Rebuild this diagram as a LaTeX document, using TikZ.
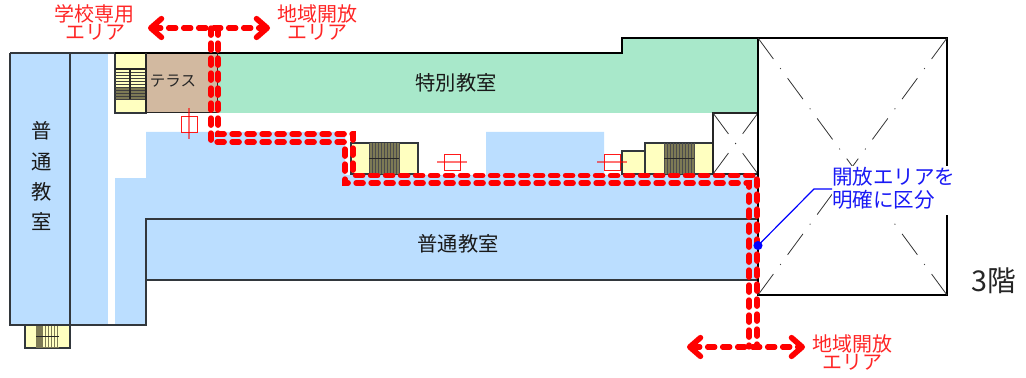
\documentclass[tikz,border=0pt]{standalone}
\usepackage{fontspec}
\setmainfont{Noto Sans CJK JP}
\usetikzlibrary{arrows.meta}
\definecolor{roomblue}{RGB}{187,222,255}
\definecolor{roomgreen}{RGB}{168,232,202}
\definecolor{terracetan}{RGB}{210,185,160}
\definecolor{stairyellow}{RGB}{255,255,192}
\definecolor{stairdark}{RGB}{125,122,85}
\definecolor{routered}{RGB}{255,0,0}
\definecolor{labelred}{RGB}{255,38,38}
\definecolor{labelblue}{RGB}{25,25,245}
\definecolor{wallgray}{RGB}{50,55,60}
\tikzset{
  wall/.style={draw=wallgray,line width=1.3pt},
  stairbox/.style={fill=stairyellow,draw=wallgray,line width=1.1pt},
  thinline/.style={draw=black!85,line width=0.75pt},
  route/.style={draw=routered,line width=4pt,line cap=round,dash pattern=on 5.4pt off 5.85pt},
  routearrow/.style={route,{Straight Barb[length=8pt,width=14pt,line width=4.2pt,round]}-{Straight Barb[length=8pt,width=14pt,line width=4.2pt,round]}},
  diag/.style={draw=black!80,line width=0.6pt,dash pattern=on 19.5pt off 8.6pt on 0.75pt off 8.6pt},
  doorbox/.style={draw=red!90,line width=0.7pt},
  doorline/.style={draw=red,opacity=.55,line width=0.9pt},
  redlabel/.style={text=labelred,font=\fontsize{15pt}{15pt}\selectfont,inner sep=0pt,text height=11pt,text depth=1.5pt},
  roomlabel/.style={text=black!90,font=\fontsize{15.2pt}{15.2pt}\selectfont,inner sep=0pt},
  bluelabel/.style={text=labelblue,font=\fontsize{15.4pt}{15.4pt}\selectfont,inner sep=0pt,anchor=west},
}
\begin{document}
\begin{tikzpicture}[x=0.75pt,y=-0.75pt]
\useasboundingbox (0,0) rectangle (1026,378);
% blue circulation areas
\fill[roomblue] (10,53) rectangle (108,325);
\fill[roomblue] (115,178) rectangle (146,325);
\fill[roomblue] (146,132) -- (345,132) -- (345,175) -- (486,175) -- (486,132) -- (604,132) -- (604,175) -- (758,175) -- (758,280) -- (146,280) -- cycle;
% green room
\fill[roomgreen] (218,53) -- (622,53) -- (622,38) -- (758,38) -- (758,113) -- (218,113) -- cycle;
% terrace
\fill[terracetan] (146,53) rectangle (218,113);
\draw[thinline] (146,113) -- (218,113);
% upper-left stairs
\filldraw[stairbox] (115,53) rectangle (146,113);
\fill[stairdark] (116,88) rectangle (146,100);
\foreach \yy in {69,72,...,99} \draw[black!75,line width=0.5pt] (115,\yy) -- (146,\yy);
\draw[thinline,line width=0.9pt] (115,69) -- (146,69) (130,69) -- (130,99);
% middle stairs
\filldraw[stairbox] (351,143) rectangle (418,174);
\fill[stairdark] (369,143) rectangle (399,174);
\foreach \xx in {369,372,...,399} \draw[black!70,line width=0.5pt] (\xx,143) -- (\xx,174);
\draw[thinline,line width=0.9pt] (369,158.5) -- (399,158.5);
% right stairs
\filldraw[stairbox] (622,151) rectangle (645,174);
\filldraw[stairbox] (645,143) rectangle (713,174);
\fill[stairdark] (664,144) rectangle (694,174);
\foreach \xx in {664,667,...,694} \draw[black!70,line width=0.5pt] (\xx,143) -- (\xx,174);
\draw[thinline,line width=0.9pt] (664,158.5) -- (694,158.5);
% bottom stairs
\filldraw[stairbox] (25,325) rectangle (70,348);
\fill[stairdark] (36,325) rectangle (59,348);
\foreach \xx in {44,47,...,59} {\fill[stairyellow] (\xx-1.2,326) rectangle (\xx+0.6,347);}
\draw[thinline,line width=0.9pt] (36,336.5) -- (59,336.5);
% walls
\draw[wall] (10,53) -- (115,53);
\draw[wall,draw=black] (115,53) -- (622,53) -- (622,38) -- (758,38);
\draw[wall] (10,53) -- (10,325) -- (146,325) -- (146,219) -- (758,219);
\draw[wall] (70,53) -- (70,325);
\draw[wall] (146,280) -- (758,280);
\draw[thinline,line width=0.9pt] (146,53) -- (146,113);
\draw[thinline] (217,53) -- (217,113);
% stair shaft box
\draw[black!85,line width=0.9pt] (713,113) rectangle (758,174);
\draw[diag] (713,113) -- (758,174);
\draw[diag] (713,174) -- (758,113);
% large void
\draw[black,line width=1.1pt] (758,38) rectangle (947,295);
\coordinate (voidC) at (852.5,166.5);
\draw[diag] (758,38) -- (voidC);
\draw[diag] (947,38) -- (voidC);
\draw[diag] (758,295) -- (voidC);
\draw[diag] (947,295) -- (voidC);
% door symbols
\draw[doorbox] (181,116) rectangle (197,132);
\draw[doorline] (189,108) -- (189,139);
\draw[doorbox] (444,154) rectangle (460,170);
\draw[doorline] (437,162) -- (467,162);
\draw[doorbox] (604,154) rectangle (620,170);
\draw[doorline] (597,162) -- (627,162);
% labels in rooms
\node[roomlabel] (tokubetsu) at (456,83) {特別教室};
\node[roomlabel] (futsuu) at (458,244) {普通教室};
\node[text=black!85,font=\fontsize{11.6pt}{11.6pt}\selectfont,inner sep=0pt] (terrace) at (173,81) {テラス};
\node[roomlabel] (v1) at (42,131) {普};
\node[roomlabel] (v2) at (42,162) {通};
\node[roomlabel] (v3) at (42,192) {教};
\node[roomlabel] (v4) at (42,222) {室};
\node[text=black!85,font=\fontsize{21.5pt}{21.5pt}\selectfont,inner sep=0pt] (floor) at (994,281) {3階};
% red routes
\coordinate (topL) at (148,28);
\coordinate (topR) at (270,28);
\coordinate (botL) at (687,347);
\coordinate (botR) at (805,347);
\draw[routearrow] (topL) -- (topR);
\draw[routearrow] (botL) -- (botR);
\draw[route] (211,28) -- (211,142) -- (345,142) -- (345,183) -- (749,183) -- (749,347);
\draw[route] (218,28) -- (218,134) -- (353,134) -- (353,175.5) -- (757,175.5) -- (757,347);
% blue callout
\fill[white] (832,166) rectangle (955,215);
\node[bluelabel] (call1) at (832,177) {開放エリアを};
\node[bluelabel] (call2) at (832,200) {明確に区分};
\coordinate (elbow) at (814,189);
\coordinate (callEnd) at (832,189);
\node[circle,fill=blue,inner sep=0pt,minimum size=6.8pt] (dot) at (758,245.5) {};
\draw[blue,line width=0.9pt] (dot.center) -- (elbow) -- (callEnd);
% red labels
\node[redlabel] (l1a) at (95,15) {学校専用};
\node[redlabel] (l1b) at (95,33) {エリア};
\node[redlabel] (l2a) at (317,15) {地域開放};
\node[redlabel] (l2b) at (317,33) {エリア};
\node[redlabel] (l3a) at (852,345) {地域開放};
\node[redlabel] (l3b) at (852,363) {エリア};
\end{tikzpicture}
\end{document}
